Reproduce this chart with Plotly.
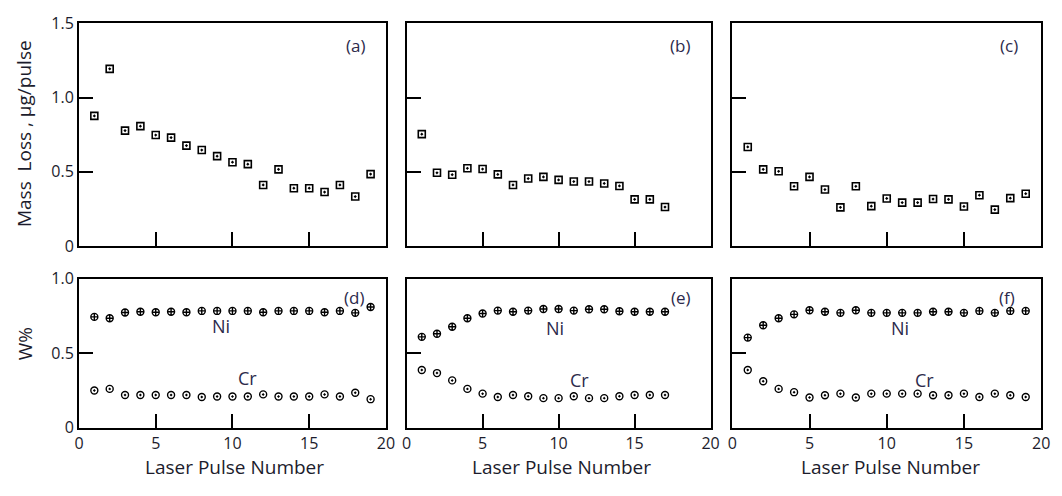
import plotly.graph_objects as go

# ---------------- data ----------------
pulse_a = list(range(1, 20))
mass_a = [0.877, 1.194, 0.778, 0.808, 0.748, 0.731, 0.677, 0.647, 0.606, 0.565,
          0.552, 0.412, 0.517, 0.390, 0.390, 0.364, 0.412, 0.334, 0.485]
pulse_b = list(range(1, 18))
mass_b = [0.754, 0.494, 0.481, 0.524, 0.519, 0.483, 0.412, 0.455, 0.466, 0.446,
          0.435, 0.435, 0.422, 0.405, 0.315, 0.315, 0.263]
pulse_c = list(range(1, 20))
mass_c = [0.668, 0.517, 0.504, 0.403, 0.466, 0.381, 0.261, 0.403, 0.269, 0.321,
          0.293, 0.293, 0.317, 0.315, 0.267, 0.343, 0.246, 0.323, 0.353]

pulse_d = list(range(1, 20))
ni_d = [0.743, 0.734, 0.772, 0.777, 0.774, 0.777, 0.774, 0.783, 0.783, 0.783,
        0.783, 0.774, 0.783, 0.783, 0.783, 0.774, 0.783, 0.770, 0.809]
cr_d = [0.249, 0.260, 0.219, 0.219, 0.219, 0.219, 0.219, 0.206, 0.209, 0.209,
        0.209, 0.223, 0.209, 0.209, 0.209, 0.223, 0.209, 0.234, 0.191]
pulse_e = list(range(1, 18))
ni_e = [0.609, 0.630, 0.677, 0.734, 0.766, 0.785, 0.777, 0.785, 0.796, 0.796,
        0.785, 0.794, 0.794, 0.781, 0.777, 0.777, 0.777]
cr_e = [0.387, 0.366, 0.317, 0.260, 0.228, 0.206, 0.219, 0.211, 0.198, 0.198,
        0.211, 0.198, 0.198, 0.211, 0.219, 0.219, 0.219]
pulse_f = list(range(1, 20))
ni_f = [0.604, 0.687, 0.734, 0.760, 0.787, 0.777, 0.770, 0.787, 0.770, 0.770,
        0.770, 0.770, 0.777, 0.777, 0.770, 0.783, 0.770, 0.783, 0.783]
cr_f = [0.387, 0.311, 0.260, 0.238, 0.202, 0.217, 0.228, 0.202, 0.228, 0.228,
        0.228, 0.228, 0.217, 0.217, 0.228, 0.206, 0.228, 0.217, 0.206]

panel_labels = ["(a)", "(b)", "(c)", "(d)", "(e)", "(f)"]
x_ticks = [0, 5, 10, 15, 20]
top_y_ticks = [0, 0.5, 1.0, 1.5]
top_y_text = ["0", "0.5", "1.0", "1.5"]
bot_y_ticks = [0, 0.5, 1.0]
bot_y_text = ["0", "0.5", "1.0"]

# ---------------- figure ----------------
FONT = "Open Sans"
TXT = "#1c1c2c"
LAB = "#2c2a4c"

fig = go.Figure()

sq = dict(symbol="square-open-dot", size=7, color="black", line=dict(width=1.6, color="black"))
ni_m = dict(symbol="circle-cross-open", size=7, color="black", line=dict(width=1.4, color="black"))
cr_m = dict(symbol="circle-open-dot", size=7, color="black", line=dict(width=1.4, color="black"))

top = [(pulse_a, mass_a), (pulse_b, mass_b), (pulse_c, mass_c)]
bot = [(pulse_d, ni_d, cr_d), (pulse_e, ni_e, cr_e), (pulse_f, ni_f, cr_f)]

def ax_id(n):
    return "" if n == 1 else str(n)

for i, (px, py) in enumerate(top):
    n = i + 1
    fig.add_trace(go.Scatter(x=px, y=py, mode="markers", marker=sq,
                             xaxis="x" + ax_id(n), yaxis="y" + ax_id(n)))
for i, (px, ni, cr) in enumerate(bot):
    n = i + 4
    fig.add_trace(go.Scatter(x=px, y=ni, mode="markers", marker=ni_m,
                             xaxis="x" + ax_id(n), yaxis="y" + ax_id(n)))
    fig.add_trace(go.Scatter(x=px, y=cr, mode="markers", marker=cr_m,
                             xaxis="x" + ax_id(n), yaxis="y" + ax_id(n)))

xdom = [[0.0706, 0.3635], [0.3832, 0.6733], [0.6940, 0.9887]]
ydom_top = [0.5040, 0.9738]
ydom_bot = [0.1210, 0.4355]

fig.update_layout(width=1062, height=496, showlegend=False,
                  margin=dict(l=0, r=0, t=0, b=0),
                  paper_bgcolor="white", plot_bgcolor="rgba(0,0,0,0)",
                  font=dict(family=FONT, color=TXT))

blank = dict(showline=False, ticks="", showticklabels=False, showgrid=False, zeroline=False)
tick_row = dict(ticks="outside", ticklen=14, tickwidth=2, tickcolor="black",
                showticklabels=False, showline=False, showgrid=False, zeroline=False)

k = 7  # next free axis pair id
for n in range(1, 7):
    col = (n - 1) % 3
    is_top = n <= 3
    ydom = ydom_top if is_top else ydom_bot
    yr = [0, 1.5] if is_top else [0, 1.0]
    yt = top_y_ticks if is_top else bot_y_ticks
    xa = dict(domain=xdom[col], anchor="y" + ax_id(n), range=[0, 20],
              tickmode="array", tickvals=x_ticks,
              ticks="inside", ticklen=14, tickwidth=2, tickcolor="black",
              showticklabels=not is_top,
              showline=True, linewidth=2, linecolor="black", mirror=True,
              showgrid=False, zeroline=False, tickfont=dict(size=16, color=TXT, family=FONT))
    ya = dict(domain=ydom, anchor="x" + ax_id(n), range=yr,
              tickmode="array", tickvals=yt,
              ticktext=top_y_text if is_top else bot_y_text,
              ticks="inside", ticklen=14, tickwidth=2, tickcolor="black",
              showticklabels=(col == 0),
              showline=True, linewidth=2, linecolor="black", mirror=True,
              showgrid=False, zeroline=False, tickfont=dict(size=16, color=TXT, family=FONT))
    fig.update_layout({"xaxis" + ax_id(n): xa, "yaxis" + ax_id(n): ya})

    # Inward tick rows: an axis sitting on each frame edge whose "outside" faces into the panel.
    x_minor = dict(dtick=1, ticks="outside", ticklen=7, tickwidth=2, tickcolor="black", showgrid=False)
    y_minor = dict(dtick=0.1, ticks="outside", ticklen=7, tickwidth=2, tickcolor="black", showgrid=False)
    # bottom edge: x axis on top side of a thin strip just below the panel
    fig.update_layout({
        f"xaxis{k}": dict(domain=xdom[col], anchor=f"y{k}", side="top", range=[0, 20],
                          tickmode="array", tickvals=x_ticks, minor=x_minor, **tick_row),
        f"yaxis{k}": dict(domain=[ydom[0] - 0.012, ydom[0]], anchor=f"x{k}", range=[0, 1], **blank),
    })
    k += 1
    # top edge: x axis on bottom side of a thin strip just above the panel
    fig.update_layout({
        f"xaxis{k}": dict(domain=xdom[col], anchor=f"y{k}", side="bottom", range=[0, 20],
                          tickmode="array", tickvals=x_ticks, minor=x_minor, **tick_row),
        f"yaxis{k}": dict(domain=[ydom[1], ydom[1] + 0.008], anchor=f"x{k}", range=[0, 1], **blank),
    })
    k += 1
    # left edge: y axis on right side of a thin strip just left of the panel
    fig.update_layout({
        f"yaxis{k}": dict(domain=ydom, anchor=f"x{k}", side="right", range=yr,
                          tickmode="array", tickvals=yt, minor=y_minor, **tick_row),
        f"xaxis{k}": dict(domain=[xdom[col][0] - 0.008, xdom[col][0]], anchor=f"y{k}", range=[0, 1], **blank),
    })
    k += 1
    # right edge: y axis on left side of a thin strip just right of the panel
    fig.update_layout({
        f"yaxis{k}": dict(domain=ydom, anchor=f"x{k}", side="left", range=yr,
                          tickmode="array", tickvals=yt, minor=y_minor, **tick_row),
        f"xaxis{k}": dict(domain=[xdom[col][1], xdom[col][1] + 0.008], anchor=f"y{k}", range=[0, 1], **blank),
    })
    k += 1

# panel labels
lab_pos = [(18.0, 1.35), (18.0, 1.35), (17.9, 1.35), (17.9, 0.87), (18.05, 0.87), (17.8, 0.87)]
for n, (lbl, (lx, ly)) in enumerate(zip(panel_labels, lab_pos), start=1):
    fig.add_annotation(x=lx, y=ly, xref="x" + ax_id(n), yref="y" + ax_id(n), text=lbl, showarrow=False,
                       font=dict(size=17, color=LAB, family=FONT))

# Ni / Cr labels
ni_pos = [(9.26, 0.68), (9.74, 0.67), (10.86, 0.67)]
cr_pos = [(11.0, 0.33), (11.36, 0.32), (12.46, 0.32)]
for i in range(3):
    n = i + 4
    fig.add_annotation(x=ni_pos[i][0], y=ni_pos[i][1], xref="x" + ax_id(n), yref="y" + ax_id(n), text="Ni",
                       showarrow=False, font=dict(size=18, color=LAB, family=FONT))
    fig.add_annotation(x=cr_pos[i][0], y=cr_pos[i][1], xref="x" + ax_id(n), yref="y" + ax_id(n), text="Cr",
                       showarrow=False, font=dict(size=18, color=LAB, family=FONT))

# axis titles
for cx in [233 / 1062, 564 / 1062, 897 / 1062]:
    fig.add_annotation(x=cx, y=1 - 477 / 496, xref="paper", yref="paper", text="Laser Pulse Number",
                       showarrow=False, font=dict(size=19, color=TXT, family=FONT),
                       xanchor="center", yanchor="middle")
fig.add_annotation(x=20 / 1062, y=1 - 128 / 496, xref="paper", yref="paper",
                   text="Mass  Loss , µg/pulse", textangle=-90, showarrow=False,
                   font=dict(size=19, color=TXT, family=FONT), xanchor="center", yanchor="middle")
fig.add_annotation(x=20 / 1062, y=1 - 348 / 496, xref="paper", yref="paper",
                   text="W%", textangle=-90, showarrow=False,
                   font=dict(size=19, color=TXT, family=FONT), xanchor="center", yanchor="middle")

fig.write_html("out.html")
